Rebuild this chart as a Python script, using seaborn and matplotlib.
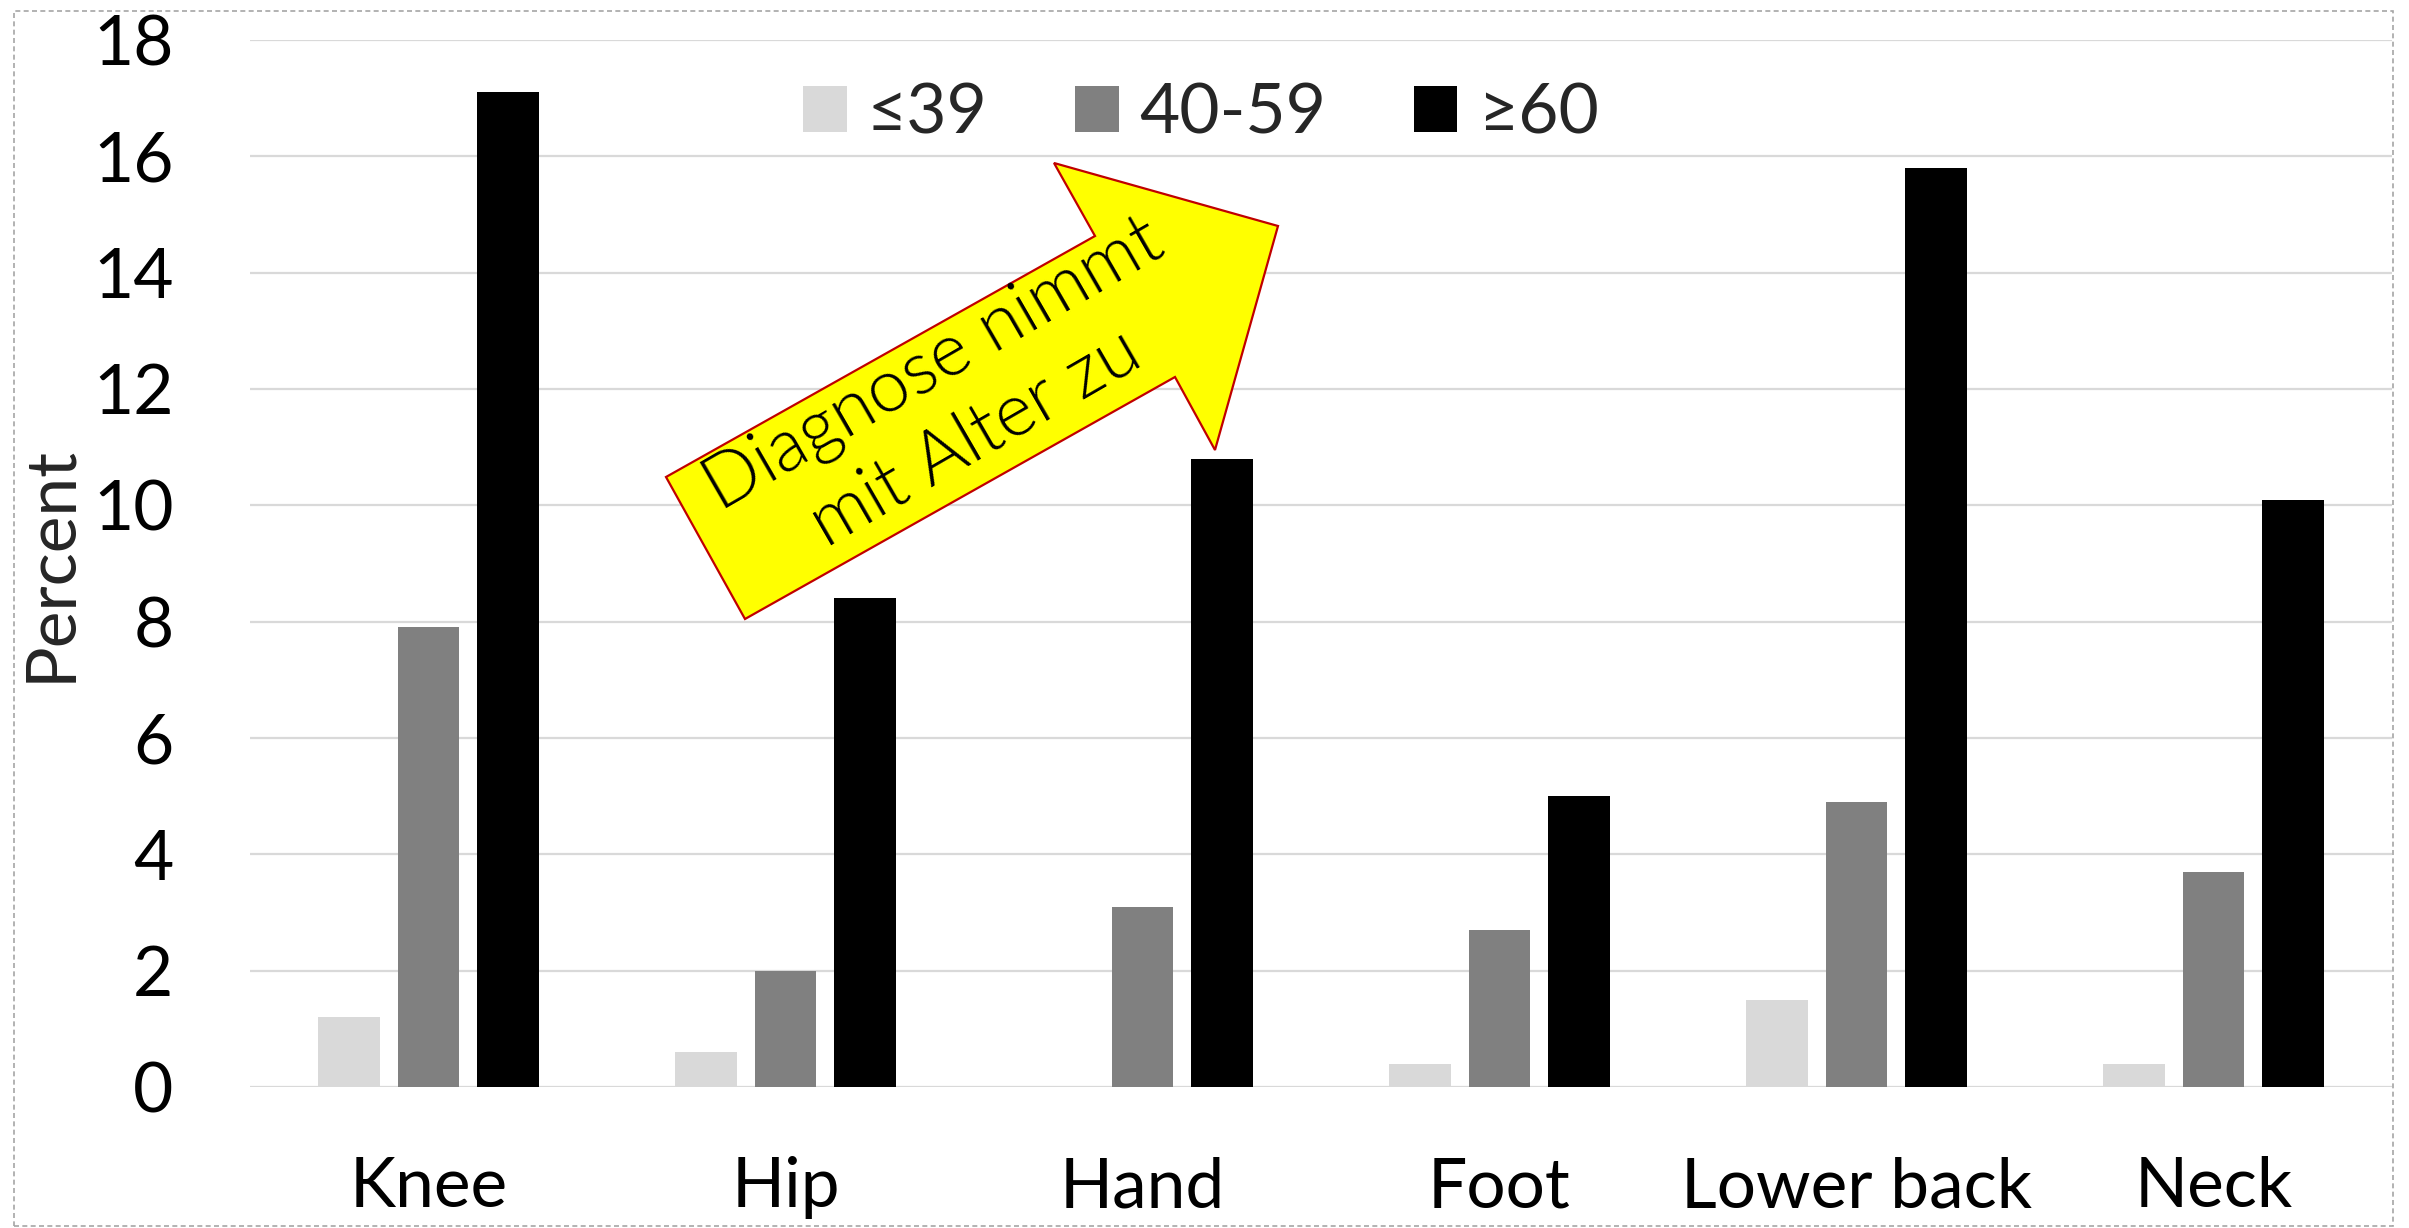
import numpy as np
import pandas as pd
import matplotlib
matplotlib.use("Agg")
import matplotlib.pyplot as plt
from matplotlib.patches import Polygon, Rectangle
import seaborn as sns

# ---- data ----
categories = ["Knee", "Hip", "Hand", "Foot", "Lower back", "Neck"]
age_groups = ["≤39", "40-59", "≥60"]
vals_le39 = [1.2, 0.6, 0.0, 0.4, 1.5, 0.4]
vals_40_59 = [7.9, 2.0, 3.1, 2.7, 4.9, 3.7]
vals_ge60 = [17.1, 8.4, 10.8, 5.0, 15.8, 10.1]
colors = ["#d9d9d9", "#808080", "#000000"]
y_ticks = [0, 2, 4, 6, 8, 10, 12, 14, 16, 18]
y_label = "Percent"
arrow_text = "Diagnose nimmt\nmit Alter zu"

df = pd.DataFrame({
    "Region": categories * 3,
    "Age": [age_groups[0]] * 6 + [age_groups[1]] * 6 + [age_groups[2]] * 6,
    "Percent": vals_le39 + vals_40_59 + vals_ge60,
})

sns.set_theme(style="white")
plt.rcParams["font.family"] = ["Lato", "DejaVu Sans"]

W, H = 2409, 1228
fig = plt.figure(figsize=(W / 100, H / 100), dpi=100)
ax = fig.add_axes([250 / W, 1 - 1087 / H, (2392 - 250) / W, (1087 - 40) / H])

sns.barplot(data=df, x="Region", y="Percent", hue="Age", order=categories,
            hue_order=age_groups, palette=colors, saturation=1,
            width=0.668, gap=0.232, linewidth=0, ax=ax)

ax.set_ylim(0, 18)
ax.set_xlim(-0.5, len(categories) - 0.5)
ax.set_yticks(y_ticks)
ax.yaxis.grid(True, color="#d9d9d9", linewidth=1.6)
ax.set_axisbelow(True)
for s in ax.spines.values():
    s.set_visible(False)
ax.tick_params(axis="both", length=0, labelsize=50, colors="black")
ax.tick_params(axis="y", pad=55)
ax.tick_params(axis="x", pad=50)
ax.set_xlabel("")
ax.set_ylabel(y_label, fontsize=50)
ax.yaxis.set_label_coords((82 - 250) / (2392 - 250), 0.5)

handles, labels = ax.get_legend_handles_labels()
ax.legend(handles, labels, ncol=3, frameon=False, fontsize=50,
          loc="center left", bbox_to_anchor=(803 / W, 1 - 114 / H),
          bbox_transform=fig.transFigure, borderpad=0, borderaxespad=0,
          handlelength=0.63, handleheight=0.63, handletextpad=0.29,
          columnspacing=1.26)

# ---- annotation arrow ----
arrow_px = [(745, 619), (666, 477), (1095, 236), (1054, 163),
            (1278, 226), (1215, 450), (1175, 377)]
arrow_fig = [(x / W, 1 - y / H) for x, y in arrow_px]
fig.patches.append(Polygon(arrow_fig, closed=True, transform=fig.transFigure,
                           facecolor="#ffff00", edgecolor="#c00000",
                           linewidth=1.6, zorder=5))
fig.text(955 / W, 1 - 402 / H, arrow_text, rotation=30, ha="center",
         va="center", rotation_mode="anchor", multialignment="center",
         fontsize=53, fontweight=300, color="black", linespacing=1.3,
         zorder=6)

# ---- dashed border ----
fig.patches.append(Rectangle((14 / W, 1 - 1226 / H), (2393 - 14) / W,
                             (1226 - 11) / H, transform=fig.transFigure,
                             fill=False, edgecolor="#a6a6a6", linewidth=1.2,
                             linestyle=(0, (3, 2)), zorder=0))

fig.savefig("out.png", dpi=100)
